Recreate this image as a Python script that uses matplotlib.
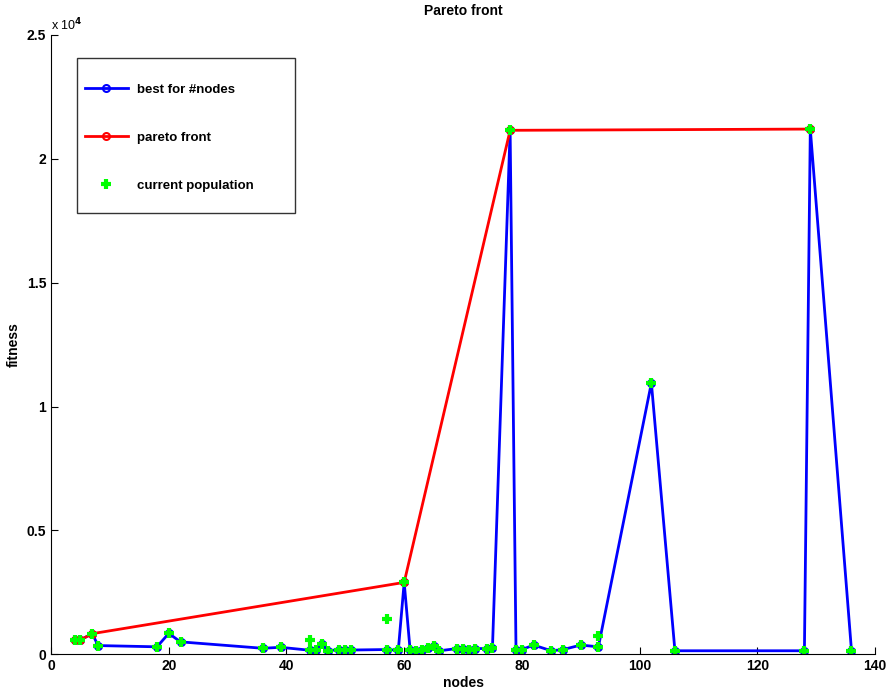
import matplotlib
matplotlib.use('Agg')
import matplotlib.pyplot as plt
from matplotlib.patches import Rectangle
from matplotlib.ticker import FuncFormatter

plt.rcParams['font.family'] = ['Liberation Sans', 'DejaVu Sans']
plt.rcParams['font.weight'] = 'bold'

# best fitness for each number of nodes
best_nodes = [4, 5, 7, 8, 18, 20, 22, 36, 39, 44, 45, 46, 47, 49, 50, 51, 57, 59, 60,
              61, 62, 63, 64, 65, 66, 69, 70, 71, 72, 74, 75, 78, 79, 80, 82, 85, 87,
              90, 93, 102, 106, 128, 129, 136]
best_fitness = [565, 580, 830, 350, 300, 840, 500, 240, 280, 160, 160, 420, 140, 190, 170,
                170, 190, 160, 2900, 190, 135, 160, 240, 330, 140, 230, 230, 160, 230,
                230, 270, 21150, 160, 190, 370, 140, 190, 370, 300, 10950, 140, 140,
                21200, 140]

# pareto front
pareto_nodes = [4, 5, 7, 60, 78, 129]
pareto_fitness = [565, 580, 830, 2900, 21150, 21200]

# current population (extra members not on the best curve)
extra_nodes = [44, 57, 93]
extra_fitness = [565, 1440, 727]
pop_nodes = best_nodes + extra_nodes
pop_fitness = best_fitness + extra_fitness

fig = plt.figure(figsize=(8.89, 6.96), dpi=100)
ax = fig.add_axes([0.0574, 0.060, 0.9269, 0.8898])

ax.plot(best_nodes, best_fitness, '-o', color='blue', linewidth=2,
        markersize=5, markerfacecolor='none', markeredgewidth=1.5, label='best for #nodes')
ax.plot(pareto_nodes, pareto_fitness, '-o', color='red', linewidth=2,
        markersize=5, markerfacecolor='none', markeredgewidth=1.5, label='pareto front')
ax.plot(pop_nodes, pop_fitness, '+', color='#00ff00', markersize=7,
        markeredgewidth=3, linestyle='none', label='current population')

ax.set_xlim(0, 140)
ax.set_ylim(0, 25000)
ax.set_xticks(range(0, 141, 20))
ax.set_yticks([0, 5000, 10000, 15000, 20000, 25000])
ax.yaxis.set_major_formatter(FuncFormatter(lambda v, p: '%g' % (v / 1e4)))
ax.text(0.0, 1.003, 'x 10$^{4}$', transform=ax.transAxes, fontsize=9,
        fontweight='normal', va='bottom', ha='left')

ax.spines['top'].set_visible(False)
ax.spines['right'].set_visible(False)
ax.tick_params(direction='in', length=5, labelsize=10)

ax.set_title('Pareto front', fontsize=10, fontweight='bold', pad=14)
ax.set_xlabel('nodes', fontsize=10, fontweight='bold', labelpad=2)
ax.set_ylabel('fitness', fontsize=10, fontweight='bold', labelpad=4)

# legend box drawn separately so it can be wider / taller than the entries
box = Rectangle((0.0316, 0.7126), 0.2646, 0.2503, transform=ax.transAxes,
                facecolor='white', edgecolor='#333333', linewidth=1, zorder=4)
ax.add_patch(box)
leg = ax.legend(loc='upper left', bbox_to_anchor=(0.0316, 0.9338), fontsize=9.5,
                handlelength=3.26, handleheight=0.7, handletextpad=0.68,
                labelspacing=2.7, borderpad=0.6, borderaxespad=0, frameon=False)
leg.set_zorder(5)

fig.savefig('out.png', dpi=100)
